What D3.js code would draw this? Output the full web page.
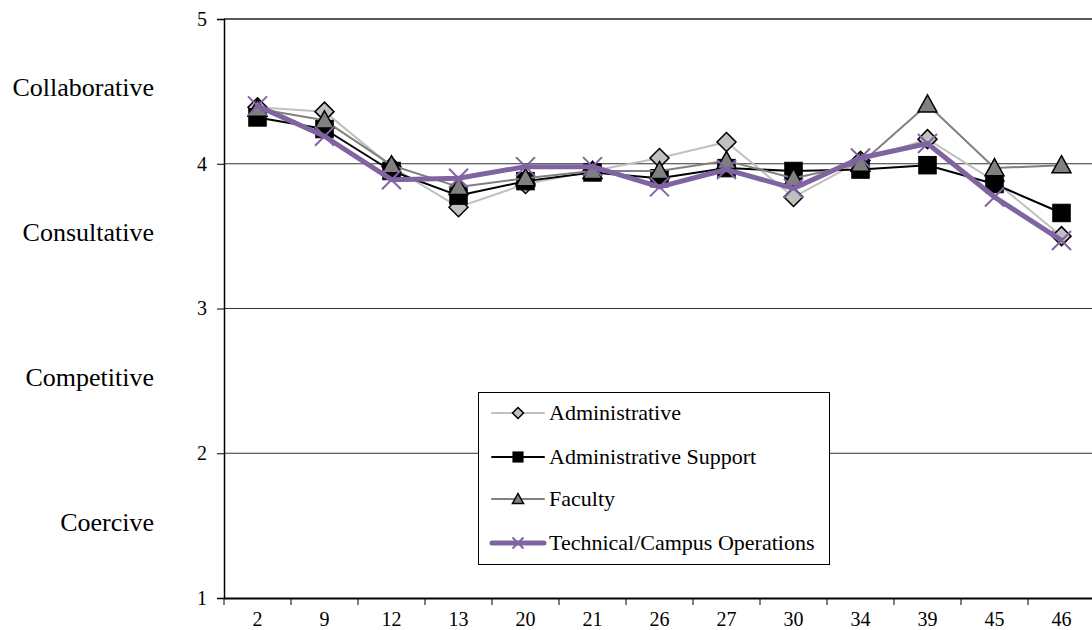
<!DOCTYPE html>
<html>
<head>
<meta charset="utf-8">
<script src="https://cdn.jsdelivr.net/npm/d3@7"></script>
<style>
  html, body { margin: 0; padding: 0; background: #fff; }
  svg { display: block; }
  svg text { font-family: "Liberation Serif", "Times New Roman", "DejaVu Serif", serif !important; }
</style>
</head>
<body>
<svg id="chart" width="1092" height="630"></svg>
<script>
// Item numbers along the x axis
const items = ["2", "9", "12", "13", "20", "21", "26", "27", "30", "34", "39", "45", "46"];

// Mean rating per item for each employee group
const administrative = [4.39, 4.36, 3.98, 3.70, 3.86, 3.95, 4.04, 4.15, 3.77, 4.02, 4.17, 3.88, 3.50];
const adminSupport   = [4.32, 4.24, 3.95, 3.78, 3.88, 3.94, 3.90, 3.97, 3.95, 3.96, 3.99, 3.86, 3.66];
const faculty        = [4.38, 4.30, 3.99, 3.84, 3.90, 3.95, 3.95, 4.02, 3.90, 4.00, 4.41, 3.97, 3.99];
const technical      = [4.40, 4.19, 3.89, 3.90, 3.98, 3.98, 3.84, 3.96, 3.83, 4.04, 4.14, 3.77, 3.47];

// Value axis ticks and the climate bands between them
const yTicks = [1, 2, 3, 4, 5];
const bandLabels = ["Collaborative", "Consultative", "Competitive", "Coercive"];
const bandCenters = [4.5, 3.5, 2.5, 1.5];

const seriesNames = ["Administrative", "Administrative Support", "Faculty", "Technical/Campus Operations"];
const seriesValues = [administrative, adminSupport, faculty, technical];

const styles = [
  { line: "#c0c0c0", width: 2, marker: "diamond", fill: "#c0c0c0", stroke: "#000" },
  { line: "#000000", width: 2, marker: "square",  fill: "#000000", stroke: "#000" },
  { line: "#808080", width: 2, marker: "triangle", fill: "#808080", stroke: "#000" },
  { line: "#8064a2", width: 5, marker: "cross",   fill: "none",    stroke: "#8064a2" }
];

const FONT = "Liberation Serif, Times New Roman, serif";
const svg = d3.select("#chart").attr("font-family", FONT);
const plot = { left: 224, right: 1095, top: 19, bottom: 598 };

const x = d3.scaleBand().domain(items).range([plot.left, plot.right]).padding(0);
const y = d3.scaleLinear().domain([1, 5]).range([plot.bottom, plot.top]);

// Horizontal gridlines
svg.append("g")
  .selectAll("line")
  .data(yTicks.filter(t => t > 1 && t < 5))
  .join("line")
  .attr("x1", plot.left).attr("x2", plot.right)
  .attr("y1", d => y(d)).attr("y2", d => y(d))
  .attr("stroke", "#333").attr("stroke-width", 1);

// Plot frame top edge
svg.append("line")
  .attr("x1", plot.left).attr("x2", plot.right)
  .attr("y1", y(5)).attr("y2", y(5))
  .attr("stroke", "#222").attr("stroke-width", 1.5);

// Y axis
const yAxis = svg.append("g")
  .attr("transform", `translate(${plot.left},0)`)
  .call(d3.axisLeft(y).tickValues(yTicks).tickFormat(d3.format("d")).tickSize(7).tickPadding(10))
  .attr("font-family", FONT);
yAxis.select(".domain").attr("stroke", "#000").attr("stroke-width", 1.5);
yAxis.selectAll(".tick line").attr("stroke", "#000");
yAxis.selectAll("text").attr("font-size", 20).attr("fill", "#000");

// X axis: ticks sit on the band boundaries
const xAxis = svg.append("g")
  .attr("transform", `translate(0,${plot.bottom})`)
  .call(d3.axisBottom(x).tickSize(0).tickPadding(14))
  .attr("font-family", FONT);
xAxis.select(".domain").attr("stroke", "#000").attr("stroke-width", 2);
xAxis.selectAll("text").attr("font-size", 20).attr("fill", "#000");
svg.append("g")
  .selectAll("line")
  .data(items)
  .join("line")
  .attr("x1", d => x(d)).attr("x2", d => x(d))
  .attr("y1", plot.bottom).attr("y2", plot.bottom + 7)
  .attr("stroke", "#000");

// Climate band labels on the left
svg.append("g")
  .selectAll("text")
  .data(bandLabels)
  .join("text")
  .attr("x", 154)
  .attr("y", (d, i) => y(bandCenters[i]) + 5)
  .attr("text-anchor", "end")
  .attr("font-size", 26)
  .attr("fill", "#000")
  .text(d => d);

function drawMarker(g, type, cx, cy, s, st) {
  if (type === "diamond") {
    g.append("path")
      .attr("d", `M${cx},${cy - s / 2}L${cx + s / 2},${cy}L${cx},${cy + s / 2}L${cx - s / 2},${cy}Z`)
      .attr("fill", st.fill).attr("stroke", st.stroke).attr("stroke-width", 1.5);
  } else if (type === "square") {
    const h = s * 0.46;
    g.append("rect")
      .attr("x", cx - h).attr("y", cy - h).attr("width", 2 * h).attr("height", 2 * h)
      .attr("fill", st.fill).attr("stroke", st.stroke).attr("stroke-width", 1);
  } else if (type === "triangle") {
    const h = s * 0.5;
    g.append("path")
      .attr("d", `M${cx},${cy - h}L${cx + h},${cy + h * 0.8}L${cx - h},${cy + h * 0.8}Z`)
      .attr("fill", st.fill).attr("stroke", st.stroke).attr("stroke-width", 1.5);
  } else if (type === "cross") {
    const h = s * 0.5;
    g.append("path")
      .attr("d", `M${cx - h},${cy - h}L${cx + h},${cy + h}M${cx - h},${cy + h}L${cx + h},${cy - h}`)
      .attr("fill", "none").attr("stroke", st.stroke).attr("stroke-width", 2);
  }
}

const line = d3.line()
  .x((d, i) => x(items[i]) + x.bandwidth() / 2)
  .y(d => y(d));

// Series lines and markers
seriesValues.forEach((vals, k) => {
  const st = styles[k];
  const g = svg.append("g");
  g.append("path")
    .datum(vals)
    .attr("d", line)
    .attr("fill", "none")
    .attr("stroke", st.line)
    .attr("stroke-width", st.width)
    .attr("stroke-linejoin", "round");
  vals.forEach((v, i) => {
    drawMarker(g, st.marker, x(items[i]) + x.bandwidth() / 2, y(v), 19, st);
  });
});

// Legend
const legend = svg.append("g");
legend.append("rect")
  .attr("x", 478.5).attr("y", 392.5).attr("width", 351).attr("height", 172)
  .attr("fill", "#fff").attr("stroke", "#000").attr("stroke-width", 1);
const rowY = [413, 457, 499, 543];
seriesNames.forEach((name, k) => {
  const st = styles[k];
  const ry = rowY[k];
  legend.append("line")
    .attr("x1", 492).attr("x2", 544).attr("y1", ry).attr("y2", ry)
    .attr("stroke", st.line).attr("stroke-width", st.width).attr("stroke-linecap", "round");
  drawMarker(legend, st.marker, 518, ry, 11, st);
  legend.append("text")
    .attr("x", 549).attr("y", ry + 7)
    .attr("font-size", 22).attr("fill", "#000")
    .text(name);
});
</script>
</body>
</html>
